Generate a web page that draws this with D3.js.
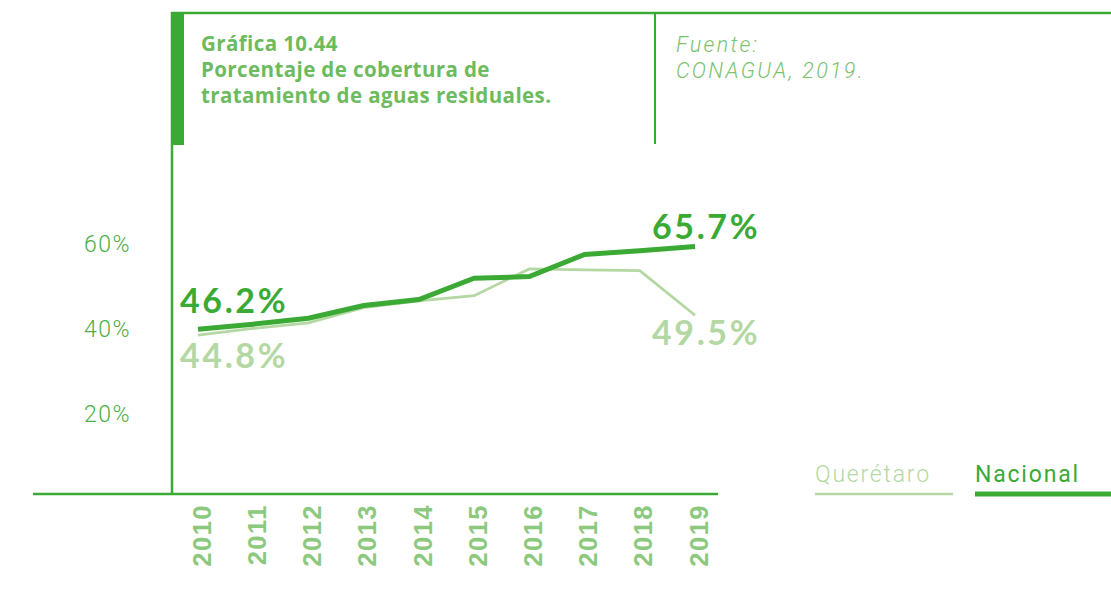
<!DOCTYPE html>
<html lang="es">
<head>
<meta charset="utf-8">
<script src="https://cdn.jsdelivr.net/npm/d3@7"></script>
<style>
  html, body { margin: 0; padding: 0; background: #ffffff; }
  svg { display: block; }
</style>
</head>
<body>
<svg id="chart" width="1111" height="612"></svg>
<script>
// Cobertura de tratamiento de aguas residuales, 2010-2019 (%)
const years = [2010, 2011, 2012, 2013, 2014, 2015, 2016, 2017, 2018, 2019];
const nacional  = [46.2, 47.4, 48.8, 51.8, 53.2, 58.2, 58.6, 63.8, 64.7, 65.7];
const queretaro = [44.8, 46.4, 47.7, 51.3, 52.9, 54.1, 60.4, 60.2, 60.0, 49.5];
const yTickValues = [20, 40, 60];
const yTickLabels = ["20%", "40%", "60%"];

const DARK = "#3aaa35";
const LIGHT = "#b4d8a3";
const TITLE = "#6cbb5e";
const YEAR = "#8cc97e";

const svg = d3.select("#chart");

// scales
const x = d3.scalePoint().domain(years).range([198, 695]);
const y = d3.scaleLinear().domain([26.5, 66.5]).range([413, 243]);
// guide scale used for the printed percentage ticks
const yGuide = d3.scaleLinear().domain([20, 60]).range([413, 243]);

// frame
svg.append("line").attr("x1", 171).attr("x2", 1111).attr("y1", 13).attr("y2", 13)
  .attr("stroke", DARK).attr("stroke-width", 2.5);
svg.append("line").attr("x1", 172).attr("x2", 172).attr("y1", 12).attr("y2", 494)
  .attr("stroke", DARK).attr("stroke-width", 2.5);
svg.append("rect").attr("x", 172).attr("y", 13).attr("width", 12).attr("height", 132)
  .attr("fill", DARK);
svg.append("line").attr("x1", 655).attr("x2", 655).attr("y1", 13).attr("y2", 144)
  .attr("stroke", DARK).attr("stroke-width", 2);

// title block
const title = svg.append("text").attr("fill", TITLE)
  .attr("font-family", "'Open Sans', Lato, sans-serif").attr("font-weight", 700)
  .attr("font-size", 20.5).attr("letter-spacing", 0.4);
title.append("tspan").attr("x", 201).attr("y", 51).text("Gráfica 10.44");
title.append("tspan").attr("x", 201).attr("y", 77).text("Porcentaje de cobertura de");
title.append("tspan").attr("x", 201).attr("y", 103).text("tratamiento de aguas residuales.");

const src = svg.append("text").attr("fill", "#7cc26f")
  .attr("font-family", "Roboto, 'Liberation Sans', sans-serif").attr("font-weight", 300)
  .attr("font-style", "italic").attr("font-size", 21.5).attr("letter-spacing", 2.3);
src.append("tspan").attr("x", 676).attr("y", 52).text("Fuente:");
src.append("tspan").attr("x", 676).attr("y", 78).text("CONAGUA, 2019.");

// baseline
svg.append("line").attr("x1", 33).attr("x2", 718).attr("y1", 494).attr("y2", 494)
  .attr("stroke", DARK).attr("stroke-width", 2.5);

// x axis (years, rotated)
const gx = svg.append("g").attr("transform", "translate(0,494)")
  .call(d3.axisBottom(x).tickSize(0).tickFormat(d3.format("d")));
gx.select(".domain").remove();
gx.selectAll("text")
  .attr("transform", "rotate(-90)")
  .attr("text-anchor", "end")
  .attr("x", -10).attr("y", 3).attr("dy", "0.36em")
  .attr("fill", YEAR)
  .attr("font-family", "'Liberation Sans', Arial, sans-serif")
  .attr("font-weight", 700).attr("font-size", 25.5)
  .attr("letter-spacing", 1.5);

// y axis labels
const gy = svg.append("g").attr("transform", "translate(131,0)")
  .call(d3.axisLeft(yGuide).tickValues(yTickValues).tickSize(0)
    .tickFormat((d, i) => yTickLabels[i]));
gy.select(".domain").remove();
gy.selectAll("text")
  .attr("x", 0).attr("dy", "0.36em")
  .attr("fill", "#4cae47")
  .attr("font-family", "Roboto, sans-serif").attr("font-weight", 300)
  .attr("font-size", 23).attr("letter-spacing", 1.5);

// lines
const line = d3.line().x((d, i) => x(years[i])).y(d => y(d));
svg.append("path").datum(queretaro).attr("d", line)
  .attr("fill", "none").attr("stroke", LIGHT).attr("stroke-width", 2.8)
  .attr("stroke-linejoin", "miter");
svg.append("path").datum(nacional).attr("d", line)
  .attr("fill", "none").attr("stroke", DARK).attr("stroke-width", 5)
  .attr("stroke-linejoin", "miter");

// end-point value labels
const fmt = v => d3.format(".1f")(v) + "%";
const valueLabel = (txt, px, py, color) => svg.append("text")
  .attr("x", px).attr("y", py).attr("fill", color)
  .attr("font-family", "Lato, 'Open Sans', sans-serif").attr("font-weight", 700)
  .attr("font-size", 34).attr("letter-spacing", 2.6).text(txt);
const first = 0, last = years.length - 1;
valueLabel(fmt(nacional[first]), x(years[first]) - 18, y(nacional[first]) - 16, DARK);
valueLabel(fmt(queretaro[first]), x(years[first]) - 18, y(queretaro[first]) + 33, LIGHT);
valueLabel(fmt(nacional[last]), x(years[last]) - 43, y(nacional[last]) - 7, DARK);
valueLabel(fmt(queretaro[last]), x(years[last]) - 43, y(queretaro[last]) + 30, LIGHT);

// legend
const legend = [
  { name: "Querétaro", color: LIGHT, x: 815, w: 138, sw: 2.5, weight: 300 },
  { name: "Nacional", color: DARK, x: 975, w: 136, sw: 5, weight: 400 }
];
const lg = svg.append("g").selectAll("g").data(legend).join("g");
lg.append("text").attr("x", d => d.x).attr("y", 482)
  .attr("fill", d => d.color)
  .attr("font-family", "Roboto, sans-serif").attr("font-weight", d => d.weight)
  .attr("font-size", 23).attr("letter-spacing", 1.8)
  .text(d => d.name);
lg.append("line").attr("x1", d => d.x).attr("x2", d => d.x + d.w)
  .attr("y1", 494).attr("y2", 494)
  .attr("stroke", d => d.color).attr("stroke-width", d => d.sw);
</script>
</body>
</html>
